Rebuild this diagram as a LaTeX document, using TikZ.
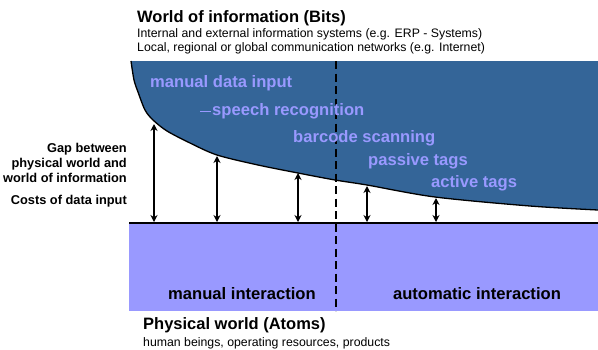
\documentclass[tikz,border=0pt]{standalone}
\usepackage{fontspec}
\setmainfont{Liberation Sans}
\usetikzlibrary{arrows.meta}
\definecolor{infoblue}{RGB}{52,101,152}
\definecolor{lav}{RGB}{153,153,255}
\tikzset{
  tech/.style={font=\fontsize{16.6}{18}\selectfont\bfseries, text=lav, inner sep=0pt, anchor=west},
  sidelbl/.style={font=\fontsize{12.8}{15.2}\selectfont\bfseries, inner sep=0pt, anchor=east, align=right},
  heading/.style={font=\fontsize{16.5}{18}\selectfont\bfseries, inner sep=0pt, anchor=west},
  sub/.style={font=\fontsize{12.3}{14}\selectfont, inner sep=0pt, anchor=west, align=left},
  gap/.style={<->, >={Stealth[length=7pt,width=7pt]}, line width=1.2pt},
  divider/.style={line width=1.8pt, dash pattern=on 8pt off 4.5pt},
  inter/.style={font=\fontsize{16.6}{18}\selectfont\bfseries, inner sep=0pt}
}
\begin{document}
\begin{tikzpicture}[x=1pt,y=-1pt]
\useasboundingbox (0,0) rectangle (598,349);
% physical world
\fill[lav] (129,223) rectangle (598,311);
% world of information
\fill[infoblue] (598,61) -- (131,61) -- plot[smooth, tension=0.5] coordinates {(131,61) (134,80) (138,92) (145,110) (153,120) (167,131) (190,143) (217,155) (258,165) (298,173) (335,180) (367,185) (435,197) (530,206) (598,210)} -- cycle;
\draw[line width=1.3pt] plot[smooth, tension=0.5] coordinates {(131,61) (134,80) (138,92) (145,110) (153,120) (167,131) (190,143) (217,155) (258,165) (298,173) (335,180) (367,185) (435,197) (530,206) (598,210)};
\draw[line width=1.8pt] (129,223) -- (598,223);
\draw[divider] (336,61) -- (336,311);
% texts
\node[heading] (wi) at (137,18) {World of information (Bits)};
\node[sub] (wi1) at (137,34) {Internal and external information systems (e.g. ERP - Systems)};
\node[sub] (wi2) at (137,48) {Local, regional or global communication networks (e.g. Internet)};
\node[tech] (t1) at (150,83) {manual data input};
\node[tech] (t2) at (212,111) {speech recognition};
\draw[lav, line width=0.5pt] (200,111) -- (211,111);
\node[tech] (t3) at (293,138) {barcode scanning};
\node[tech] (t4) at (368,161) {passive tags};
\node[tech] (t5) at (431,183) {active tags};
\node[sidelbl] (gap) at (127,163) {Gap between\\physical world and\\world of information};
\node[sidelbl] (cost) at (127,201) {Costs of data input};
\node[inter] (mi) at (242,294) {manual interaction};
\node[inter] (ai) at (477,294) {automatic interaction};
\node[heading] (pw) at (143,325) {Physical world (Atoms)};
\node[sub] (pw1) at (143,343) {human beings, operating resources, products};
% arrows
\coordinate (a1t) at (154,124); \coordinate (a1b) at (154,222);
\coordinate (a2t) at (217,156); \coordinate (a2b) at (217,222);
\coordinate (a3t) at (298,173); \coordinate (a3b) at (298,222);
\coordinate (a4t) at (367,186); \coordinate (a4b) at (367,222);
\coordinate (a5t) at (436,198); \coordinate (a5b) at (436,222);
\draw[gap] (a1t) -- (a1b);
\draw[gap] (a2t) -- (a2b);
\draw[gap] (a3t) -- (a3b);
\draw[gap] (a4t) -- (a4b);
\draw[gap] (a5t) -- (a5b);
\end{tikzpicture}
\end{document}
